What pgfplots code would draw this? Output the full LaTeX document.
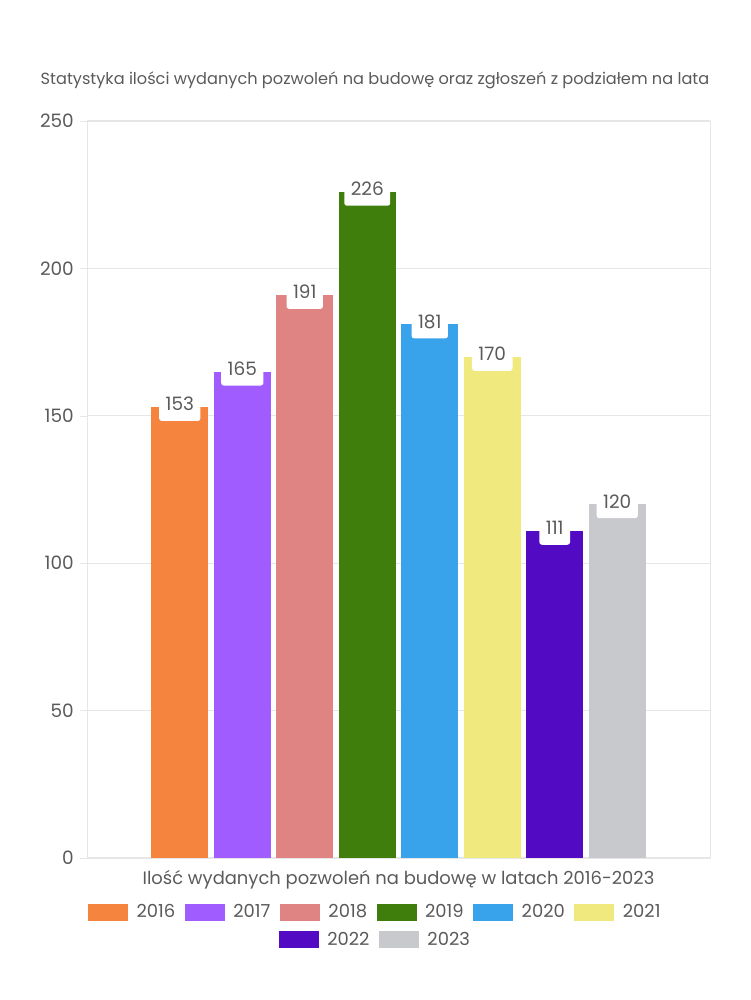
\documentclass[border=0pt]{standalone}
\usepackage{fontspec}
\setmainfont{Poppins}
\usepackage{pgfplots}
\pgfplotsset{compat=1.18}
\definecolor{c16}{HTML}{F5843F}
\definecolor{c17}{HTML}{A05CFF}
\definecolor{c18}{HTML}{E08383}
\definecolor{c19}{HTML}{3F7D0C}
\definecolor{c20}{HTML}{38A2EA}
\definecolor{c21}{HTML}{F0EA7E}
\definecolor{c22}{HTML}{520BC2}
\definecolor{c23}{HTML}{C8C9CD}
\definecolor{txt}{HTML}{5A5A5A}
\definecolor{gridc}{HTML}{E6E6E6}
\pgfplotsset{
  legimg/.style={legend image code/.code={\fill[##1] (0cm,-0.17cm) rectangle (0.8cm,0.17cm);}},
  mybar/.style={ybar, bar width=0.912, bar shift=0pt, draw=none, legimg},
  myleg/.style={draw=none, fill=none, font=\fontsize{10.2}{12}\selectfont, text=txt,
     /tikz/every odd column/.append style={column sep=0.1cm},
     /tikz/every even column/.append style={column sep=0.12cm}},
}
\begin{document}
\begin{tikzpicture}[x=1cm,y=1cm]
\path (0,0) rectangle (15,20);
\node[text=txt, font=\fontsize{9.2}{11}\selectfont] at (7.5,18.4) {Statystyka ilości wydanych pozwoleń na budowę oraz zgłoszeń z podziałem na lata};
\begin{axis}[
  at={(1.74cm,2.84cm)}, anchor=south west,
  scale only axis, width=12.46cm, height=14.74cm,
  xmin=-1.485, xmax=8.485, ymin=0, ymax=250,
  ytick={0,50,...,250}, xtick=\empty,
  ymajorgrids, grid style={gridc, line width=0.6pt},
  axis line style={gridc},
  tick style={gridc},
  tick align=outside, major tick length=0.14cm, ytick pos=left,
  y tick label style={text=txt, font=\fontsize{10.5}{12}\selectfont},
  /pgf/number format/assume math mode=true,
  nodes near coords,
  every node near coord/.append style={fill=white, rounded corners=1.5pt, text=txt,
     font=\fontsize{10.5}{12}\selectfont, anchor=south, yshift=-0.28cm,
     inner xsep=0.13cm, inner ysep=0.2cm, text depth=0pt, text height=0.26cm, outer sep=0pt},
  xlabel={Ilość wydanych pozwoleń na budowę w latach 2016-2023},
  xlabel style={at={(axis description cs:0.5,0)}, anchor=center, yshift=-0.44cm, text=txt, font=\fontsize{10.2}{12}\selectfont},
  legend style={at={(axis description cs:0.464,-0.0733)}, anchor=center, myleg},
  legend columns=6,
]
\addplot[mybar, fill=c16] coordinates {(0,153)}; \addlegendentry{2016}
\addplot[mybar, fill=c17] coordinates {(1,165)}; \addlegendentry{2017}
\addplot[mybar, fill=c18] coordinates {(2,191)}; \addlegendentry{2018}
\addplot[mybar, fill=c19] coordinates {(3,226)}; \addlegendentry{2019}
\addplot[mybar, fill=c20] coordinates {(4,181)}; \addlegendentry{2020}
\addplot[mybar, fill=c21] coordinates {(5,170)}; \addlegendentry{2021}
\addplot[mybar, fill=c22, forget plot] coordinates {(6,111)};
\addplot[mybar, fill=c23, forget plot] coordinates {(7,120)};
\end{axis}
\begin{axis}[
  at={(1.74cm,2.84cm)}, anchor=south west,
  scale only axis, width=12.46cm, height=14.74cm,
  xmin=0, xmax=1, ymin=0, ymax=1, hide axis,
  legend style={at={(axis description cs:0.464,-0.111)}, anchor=center, myleg},
  legend columns=2,
]
\addlegendimage{mybar, fill=c22}\addlegendentry{2022}
\addlegendimage{mybar, fill=c23}\addlegendentry{2023}
\end{axis}
\end{tikzpicture}
\end{document}
